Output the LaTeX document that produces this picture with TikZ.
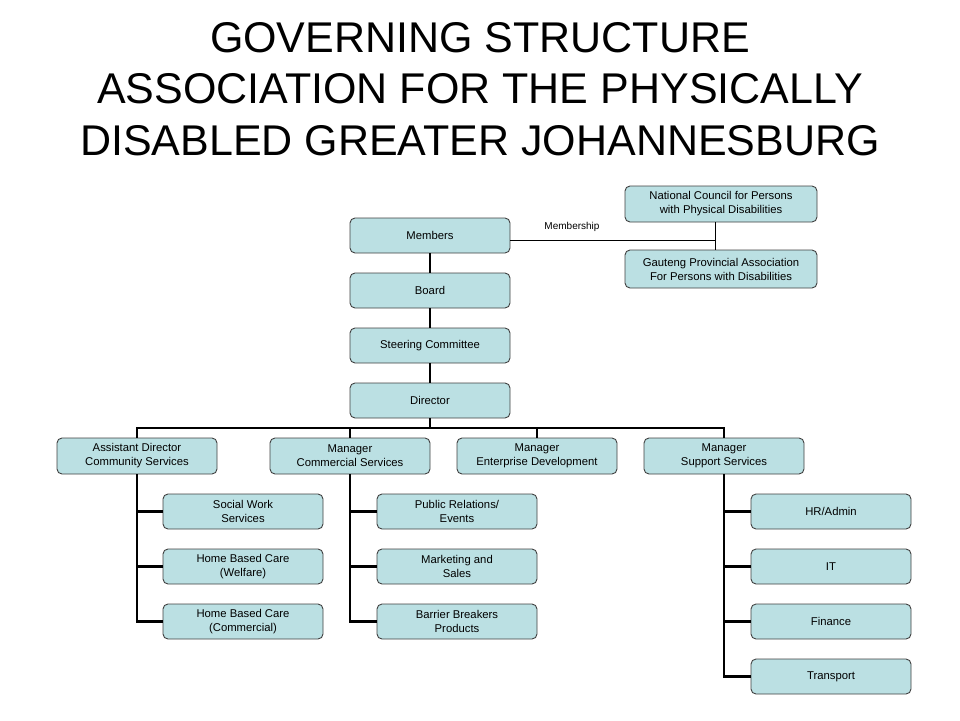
\documentclass[tikz,border=0pt]{standalone}
\usepackage{fontspec}
\setmainfont{Liberation Sans}
\definecolor{boxfill}{RGB}{187,224,227}
\definecolor{boxline}{RGB}{64,64,64}
\begin{document}
\begin{tikzpicture}[x=1pt,y=-1pt,
  box/.style={draw=boxline,line width=0.9pt,fill=boxfill,rounded corners=5pt,
    minimum width=160pt,minimum height=35pt,align=center,inner sep=1pt,
    font=\fontsize{11.3}{14}\selectfont},
  conn/.style={line width=2.8pt,black},
  memb/.style={line width=0.8pt,black},
  ttl/.style={anchor=base,inner sep=0pt,font=\fontsize{43}{50}\selectfont}]
\useasboundingbox (0,0) rectangle (960,720);
% title
\node[ttl] (t1) at (480,52) {GOVERNING STRUCTURE};
\node[ttl] (t2) at (480,103) {ASSOCIATION FOR THE PHYSICALLY};
\node[ttl] (t3) at (480,155) {DISABLED GREATER JOHANNESBURG};
% main chain
\node[box] (members) at (430,235.5) {Members};
\node[box] (board) at (430,290.5) {Board};
\node[box] (steer) at (430,345.5) {Steering Committee};
\node[box] (director) at (430,400.5) {Director};
% external
\node[box,minimum width=192pt,minimum height=36pt] (national) at (721,204) {National Council for Persons\\with Physical Disabilities};
\node[box,minimum width=192pt,minimum height=38pt] (gauteng) at (721,269) {Gauteng Provincial Association\\For Persons with Disabilities};
% level 2
\node[box,minimum height=36pt] (asst) at (137,456) {Assistant Director\\Community Services};
\node[box,minimum height=36pt] (comm) at (350,456) {Manager\\Commercial Services};
\node[box,minimum height=36pt] (ent) at (537,456) {Manager\\Enterprise Development};
\node[box,minimum height=36pt] (supp) at (724,456) {Manager\\Support Services};
% level 3
\node[box] (social) at (243,511.5) {Social Work\\Services};
\node[box] (hbw) at (243,566.5) {Home Based Care\\(Welfare)};
\node[box] (hbc) at (243,621.5) {Home Based Care\\(Commercial)};
\node[box] (pr) at (457,511.5) {Public Relations/\\Events};
\node[box] (mkt) at (457,566.5) {Marketing and\\Sales};
\node[box] (bbp) at (457,621.5) {Barrier Breakers\\Products};
\node[box] (hr) at (831,511.5) {HR/Admin};
\node[box] (it) at (831,566.5) {IT};
\node[box] (fin) at (831,621.5) {Finance};
\node[box] (trans) at (831,676.5) {Transport};
% connectors main chain
\draw[conn] (members) -- (board);
\draw[conn] (board) -- (steer);
\draw[conn] (steer) -- (director);
% bus
\coordinate (bus) at (430,428);
\draw[conn] (director.south) -- (bus);
\draw[conn] (bus) -| (asst.north);
\draw[conn] (bus) -| (comm.north);
\draw[conn] (bus) -| (ent.north);
\draw[conn] (bus) -| (supp.north);
% children
\draw[conn] (asst.south) |- (social.west);
\draw[conn] (asst.south) |- (hbw.west);
\draw[conn] (asst.south) |- (hbc.west);
\draw[conn] (comm.south) |- (pr.west);
\draw[conn] (comm.south) |- (mkt.west);
\draw[conn] (comm.south) |- (bbp.west);
\draw[conn] (supp.south) |- (hr.west);
\draw[conn] (supp.south) |- (it.west);
\draw[conn] (supp.south) |- (fin.west);
\draw[conn] (supp.south) |- (trans.west);
% membership
\coordinate (mj) at (715,240);
\draw[memb] (members.east |- mj) -- (mj);
\draw[memb] (national.south -| mj) -- (gauteng.north -| mj);
\node[font=\fontsize{10}{12}\selectfont,inner sep=0pt] (mlabel) at (572,227) {Membership};
\end{tikzpicture}
\end{document}
